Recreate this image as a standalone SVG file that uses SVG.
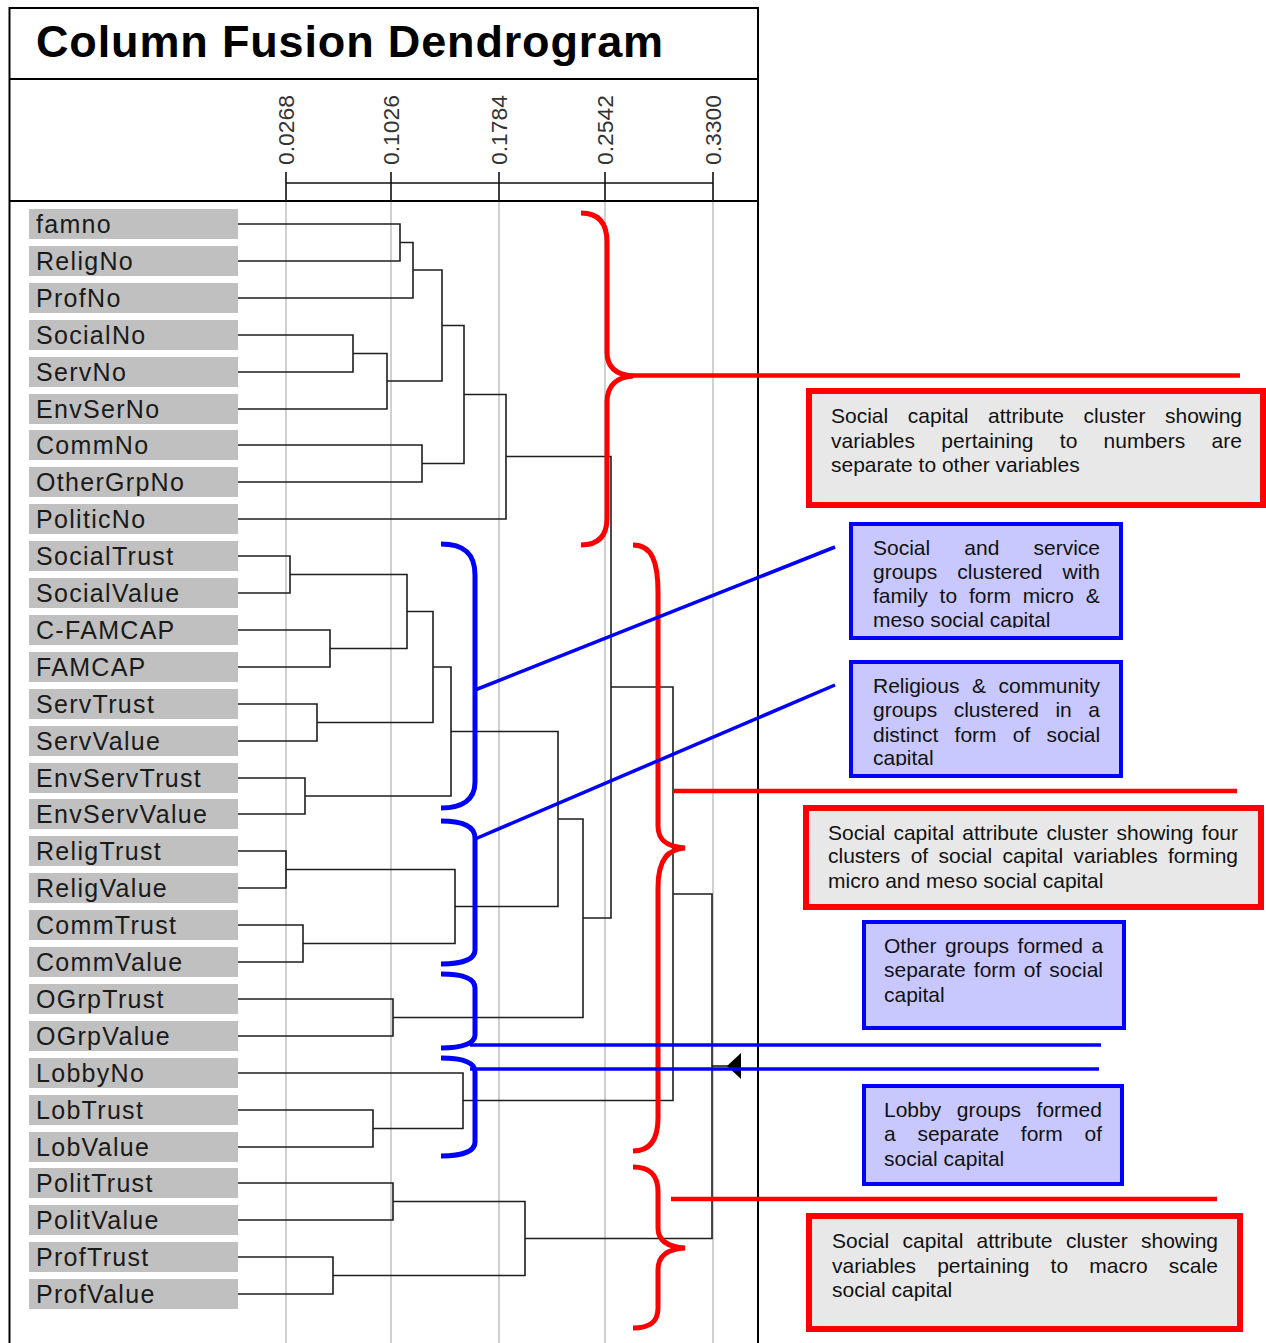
<svg xmlns="http://www.w3.org/2000/svg" width="1266" height="1343" viewBox="0 0 1266 1343">
<style>
.frame{stroke:#000;stroke-width:2;fill:none}
.grid{stroke:#d0d0d0;stroke-width:2}
.axis{stroke:#111;stroke-width:1.6;fill:none}
.tick{font-family:"Liberation Sans",Arial,sans-serif;font-size:22px;fill:#333}
.title{font-family:"Liberation Sans",Arial,sans-serif;font-size:45px;font-weight:bold;fill:#000;letter-spacing:0.85px}
.lb{fill:#c0c0c0}
.lt{font-family:"Liberation Sans",Arial,sans-serif;font-size:25px;letter-spacing:1.3px;fill:#1a1a1a}
.dg{stroke:#1e1e1e;stroke-width:1.6;fill:none}
.rb{stroke:#ff0000;stroke-width:5;fill:none}
.rl{stroke:#ff0000;stroke-width:4.5;fill:none}
.bb{stroke:#0000ff;stroke-width:5;fill:none}
.bl{stroke:#0000ff;stroke-width:3.5;fill:none}
.rbox{fill:#e8e8e8;stroke:#ff0000;stroke-width:6}
.bbox{fill:#c8c8ff;stroke:#0000ff;stroke-width:4}
.nt{font-family:"Liberation Sans",Arial,sans-serif;font-size:21px;fill:#111}
</style>
<defs>
<clipPath id="clipB2"><rect x="853" y="526" width="266" height="102"/></clipPath>
<clipPath id="clipB3"><rect x="853" y="664" width="266" height="102"/></clipPath>
</defs>
<rect x="0" y="0" width="1266" height="1343" fill="#fff"/>

<g id="frame">
<path class="frame" d="M9.5,1343 V8 H758 V1343"/>
<line class="frame" x1="9.5" y1="79" x2="758" y2="79" stroke-width="2.5"/>
<line class="frame" x1="9.5" y1="201" x2="758" y2="201" stroke-width="2.5"/>
<text class="title" x="36" y="57">Column Fusion Dendrogram</text>
</g>

<g id="gridlines">
<line class="grid" x1="286" y1="202" x2="286" y2="1343"/>
<line class="grid" x1="391" y1="202" x2="391" y2="1343"/>
<line class="grid" x1="499" y1="202" x2="499" y2="1343"/>
<line class="grid" x1="605" y1="202" x2="605" y2="1343"/>
<line class="grid" x1="713" y1="202" x2="713" y2="1343"/>
</g>

<g id="axis">
<path class="axis" d="M286,183 H713 M286,172 V201 M391,172 V201 M499,172 V201 M605,172 V201 M713,172 V201"/>
<text class="tick" transform="translate(294,165) rotate(-90)" textLength="70" lengthAdjust="spacingAndGlyphs">0.0268</text>
<text class="tick" transform="translate(399,165) rotate(-90)" textLength="70" lengthAdjust="spacingAndGlyphs">0.1026</text>
<text class="tick" transform="translate(507,165) rotate(-90)" textLength="70" lengthAdjust="spacingAndGlyphs">0.1784</text>
<text class="tick" transform="translate(613,165) rotate(-90)" textLength="70" lengthAdjust="spacingAndGlyphs">0.2542</text>
<text class="tick" transform="translate(721,165) rotate(-90)" textLength="70" lengthAdjust="spacingAndGlyphs">0.3300</text>
</g>

<g id="leaves">
<g id="n-famno"><rect class="lb" x="29" y="209" width="209" height="30"/><text class="lt" x="36" y="233">famno</text></g>
<g id="n-ReligNo"><rect class="lb" x="29" y="246" width="209" height="30"/><text class="lt" x="36" y="270">ReligNo</text></g>
<g id="n-ProfNo"><rect class="lb" x="29" y="283" width="209" height="30"/><text class="lt" x="36" y="307">ProfNo</text></g>
<g id="n-SocialNo"><rect class="lb" x="29" y="320" width="209" height="30"/><text class="lt" x="36" y="344">SocialNo</text></g>
<g id="n-ServNo"><rect class="lb" x="29" y="357" width="209" height="30"/><text class="lt" x="36" y="381">ServNo</text></g>
<g id="n-EnvSerNo"><rect class="lb" x="29" y="394" width="209" height="30"/><text class="lt" x="36" y="418">EnvSerNo</text></g>
<g id="n-CommNo"><rect class="lb" x="29" y="430" width="209" height="30"/><text class="lt" x="36" y="454">CommNo</text></g>
<g id="n-OtherGrpNo"><rect class="lb" x="29" y="467" width="209" height="30"/><text class="lt" x="36" y="491">OtherGrpNo</text></g>
<g id="n-PoliticNo"><rect class="lb" x="29" y="504" width="209" height="30"/><text class="lt" x="36" y="528">PoliticNo</text></g>
<g id="n-SocialTrust"><rect class="lb" x="29" y="541" width="209" height="30"/><text class="lt" x="36" y="565">SocialTrust</text></g>
<g id="n-SocialValue"><rect class="lb" x="29" y="578" width="209" height="30"/><text class="lt" x="36" y="602">SocialValue</text></g>
<g id="n-C-FAMCAP"><rect class="lb" x="29" y="615" width="209" height="30"/><text class="lt" x="36" y="639">C-FAMCAP</text></g>
<g id="n-FAMCAP"><rect class="lb" x="29" y="652" width="209" height="30"/><text class="lt" x="36" y="676">FAMCAP</text></g>
<g id="n-ServTrust"><rect class="lb" x="29" y="689" width="209" height="30"/><text class="lt" x="36" y="713">ServTrust</text></g>
<g id="n-ServValue"><rect class="lb" x="29" y="726" width="209" height="30"/><text class="lt" x="36" y="750">ServValue</text></g>
<g id="n-EnvServTrust"><rect class="lb" x="29" y="763" width="209" height="30"/><text class="lt" x="36" y="787">EnvServTrust</text></g>
<g id="n-EnvServValue"><rect class="lb" x="29" y="799" width="209" height="30"/><text class="lt" x="36" y="823">EnvServValue</text></g>
<g id="n-ReligTrust"><rect class="lb" x="29" y="836" width="209" height="30"/><text class="lt" x="36" y="860">ReligTrust</text></g>
<g id="n-ReligValue"><rect class="lb" x="29" y="873" width="209" height="30"/><text class="lt" x="36" y="897">ReligValue</text></g>
<g id="n-CommTrust"><rect class="lb" x="29" y="910" width="209" height="30"/><text class="lt" x="36" y="934">CommTrust</text></g>
<g id="n-CommValue"><rect class="lb" x="29" y="947" width="209" height="30"/><text class="lt" x="36" y="971">CommValue</text></g>
<g id="n-OGrpTrust"><rect class="lb" x="29" y="984" width="209" height="30"/><text class="lt" x="36" y="1008">OGrpTrust</text></g>
<g id="n-OGrpValue"><rect class="lb" x="29" y="1021" width="209" height="30"/><text class="lt" x="36" y="1045">OGrpValue</text></g>
<g id="n-LobbyNo"><rect class="lb" x="29" y="1058" width="209" height="30"/><text class="lt" x="36" y="1082">LobbyNo</text></g>
<g id="n-LobTrust"><rect class="lb" x="29" y="1095" width="209" height="30"/><text class="lt" x="36" y="1119">LobTrust</text></g>
<g id="n-LobValue"><rect class="lb" x="29" y="1132" width="209" height="30"/><text class="lt" x="36" y="1156">LobValue</text></g>
<g id="n-PolitTrust"><rect class="lb" x="29" y="1168" width="209" height="30"/><text class="lt" x="36" y="1192">PolitTrust</text></g>
<g id="n-PolitValue"><rect class="lb" x="29" y="1205" width="209" height="30"/><text class="lt" x="36" y="1229">PolitValue</text></g>
<g id="n-ProfTrust"><rect class="lb" x="29" y="1242" width="209" height="30"/><text class="lt" x="36" y="1266">ProfTrust</text></g>
<g id="n-ProfValue"><rect class="lb" x="29" y="1279" width="209" height="30"/><text class="lt" x="36" y="1303">ProfValue</text></g>
</g>

<g id="connectors">
<path class="dg" d="M238,224 H400 V261 H238"/>
<path class="dg" d="M400,242.5 H413 V298 H238"/>
<path class="dg" d="M238,335 H353 V372 H238"/>
<path class="dg" d="M353,353.5 H387 V409 H238"/>
<path class="dg" d="M413,270 H442 V381 H387"/>
<path class="dg" d="M238,445 H422 V482 H238"/>
<path class="dg" d="M442,325.5 H464 V463.5 H422"/>
<path class="dg" d="M464,394.5 H506 V519 H238"/>
<path class="dg" d="M238,556 H290 V593 H238"/>
<path class="dg" d="M238,630 H330 V667 H238"/>
<path class="dg" d="M290,574.5 H407 V648.5 H330"/>
<path class="dg" d="M238,704 H317 V741 H238"/>
<path class="dg" d="M407,611.5 H433 V722.5 H317"/>
<path class="dg" d="M238,778 H305 V814 H238"/>
<path class="dg" d="M433,667 H451 V796 H305"/>
<path class="dg" d="M238,851 H286 V888 H238"/>
<path class="dg" d="M238,925 H303 V962 H238"/>
<path class="dg" d="M286,869.5 H455 V943.5 H303"/>
<path class="dg" d="M451,731.5 H558 V906.5 H455"/>
<path class="dg" d="M238,999 H393 V1036 H238"/>
<path class="dg" d="M558,819 H583 V1017.5 H393"/>
<path class="dg" d="M506,456.5 H611 V918 H583"/>
<path class="dg" d="M238,1110 H373 V1147 H238"/>
<path class="dg" d="M238,1073 H463 V1128.5 H373"/>
<path class="dg" d="M611,687 H673 V1100.5 H463"/>
<path class="dg" d="M238,1183 H393 V1220 H238"/>
<path class="dg" d="M238,1257 H333 V1294 H238"/>
<path class="dg" d="M393,1201.5 H525 V1275.5 H333"/>
<path class="dg" d="M673,894 H712 V1238.5 H525"/>
<path class="dg" d="M712,1066 H728"/>
<polygon points="727,1066 741,1053 741,1079" fill="#000"/>
</g>

<g id="red-annotations">
<path class="rb" d="M581,213 C598,213 607,222 607,242 V352 C607,368 617,375 633,376 C617,377 607,385 607,402 V518 C607,536 598,545 581,545"/>
<line class="rl" x1="631" y1="375.5" x2="1240" y2="375.5"/>
<path class="rb" d="M633,545 C652,545 658,562 658,592 V826 C658,842 669,847 685,848 C669,849 658,858 658,888 V1118 C658,1140 650,1151 633,1151"/>
<line class="rl" x1="673" y1="791" x2="1237" y2="791"/>
<path class="rb" d="M633,1167 C651,1167 658,1176 658,1192 V1228 C658,1241 668,1247 685,1248 C668,1249 658,1255 658,1270 V1308 C658,1322 650,1328 633,1328"/>
<line class="rl" x1="671" y1="1199" x2="1217" y2="1199"/>
</g>

<g id="blue-annotations">
<path class="bb" d="M441,544 C462,544 475,552 475,575 V782 C475,800 462,808 441,808"/>
<line class="bl" x1="475" y1="690" x2="835" y2="547"/>
<path class="bb" d="M441,821 C463,821 475,826 475,838 V950 C475,959 463,964 441,964"/>
<line class="bl" x1="475" y1="839" x2="835" y2="685"/>
<path class="bb" d="M441,974 C463,974 475,978 475,988 V1035 C475,1043 463,1048 441,1048"/>
<line class="bl" x1="470" y1="1045" x2="1101" y2="1045"/>
<path class="bb" d="M441,1058 C463,1058 475,1062 475,1072 V1142 C475,1151 463,1156 441,1156"/>
<line class="bl" x1="470" y1="1069" x2="1099" y2="1069"/>
</g>

<g id="note-numbers">
<rect class="rbox" x="809" y="391" width="454" height="114"/>
<text class="nt" y="423"><tspan x="831">Social</tspan><tspan x="907.8">capital</tspan><tspan x="988.1">attribute</tspan><tspan x="1083.6">cluster</tspan><tspan x="1165">showing</tspan></text>
<text class="nt" y="448"><tspan x="831">variables</tspan><tspan x="941.3">pertaining</tspan><tspan x="1059.8">to</tspan><tspan x="1103.6">numbers</tspan><tspan x="1211.6">are</tspan></text>
<text class="nt" x="831" y="472">separate to other variables</text>
</g>

<g id="note-social-service">
<rect class="bbox" x="851" y="524" width="270" height="114"/>
<g clip-path="url(#clipB2)">
<text class="nt" y="555"><tspan x="873">Social</tspan><tspan x="964.3">and</tspan><tspan x="1033.5">service</tspan></text>
<text class="nt" y="579"><tspan x="873">groups</tspan><tspan x="957.3">clustered</tspan><tspan x="1062.6">with</tspan></text>
<text class="nt" y="603"><tspan x="873">family</tspan><tspan x="939.6">to</tspan><tspan x="968.9">form</tspan><tspan x="1022.7">micro</tspan><tspan x="1085.8">&amp;</tspan></text>
<text class="nt" x="873" y="627">meso social capital</text>
</g>
</g>

<g id="note-religious">
<rect class="bbox" x="851" y="662" width="270" height="114"/>
<g clip-path="url(#clipB3)">
<text class="nt" y="693"><tspan x="873">Religious</tspan><tspan x="972">&amp;</tspan><tspan x="998.6">community</tspan></text>
<text class="nt" y="717"><tspan x="873">groups</tspan><tspan x="953.7">clustered</tspan><tspan x="1055.4">in</tspan><tspan x="1088.2">a</tspan></text>
<text class="nt" y="742"><tspan x="873">distinct</tspan><tspan x="954.6">form</tspan><tspan x="1012.8">of</tspan><tspan x="1046.5">social</tspan></text>
<text class="nt" x="873" y="765">capital</text>
</g>
</g>

<g id="note-four-clusters">
<rect class="rbox" x="806" y="808" width="455" height="99"/>
<text class="nt" y="840"><tspan x="828">Social</tspan><tspan x="893.4">capital</tspan><tspan x="962.3">attribute</tspan><tspan x="1046.4">cluster</tspan><tspan x="1116.5">showing</tspan><tspan x="1201.8">four</tspan></text>
<text class="nt" y="863"><tspan x="828">clusters</tspan><tspan x="910.7">of</tspan><tspan x="938.5">social</tspan><tspan x="1002.5">capital</tspan><tspan x="1073.6">variables</tspan><tspan x="1168">forming</tspan></text>
<text class="nt" x="828" y="888">micro and meso social capital</text>
</g>

<g id="note-other-groups">
<rect class="bbox" x="864" y="922" width="260" height="106"/>
<text class="nt" y="953"><tspan x="884">Other</tspan><tspan x="944.9">groups</tspan><tspan x="1017.6">formed</tspan><tspan x="1091.4">a</tspan></text>
<text class="nt" y="977"><tspan x="884">separate</tspan><tspan x="973.8">form</tspan><tspan x="1023.8">of</tspan><tspan x="1049.3">social</tspan></text>
<text class="nt" x="884" y="1002">capital</text>
</g>

<g id="note-lobby">
<rect class="bbox" x="864" y="1086" width="258" height="98"/>
<text class="nt" y="1117"><tspan x="884">Lobby</tspan><tspan x="956.8">groups</tspan><tspan x="1036.6">formed</tspan></text>
<text class="nt" y="1141"><tspan x="884">a</tspan><tspan x="917.4">separate</tspan><tspan x="1020.8">form</tspan><tspan x="1084.5">of</tspan></text>
<text class="nt" x="884" y="1166">social capital</text>
</g>

<g id="note-macro">
<rect class="rbox" x="809" y="1216" width="431" height="113"/>
<text class="nt" y="1248"><tspan x="832">Social</tspan><tspan x="902.6">capital</tspan><tspan x="976.6">attribute</tspan><tspan x="1065.9">cluster</tspan><tspan x="1141">showing</tspan></text>
<text class="nt" y="1273"><tspan x="832">variables</tspan><tspan x="937.2">pertaining</tspan><tspan x="1050.6">to</tspan><tspan x="1089.3">macro</tspan><tspan x="1168.8">scale</tspan></text>
<text class="nt" x="832" y="1297">social capital</text>
</g>
</svg>
